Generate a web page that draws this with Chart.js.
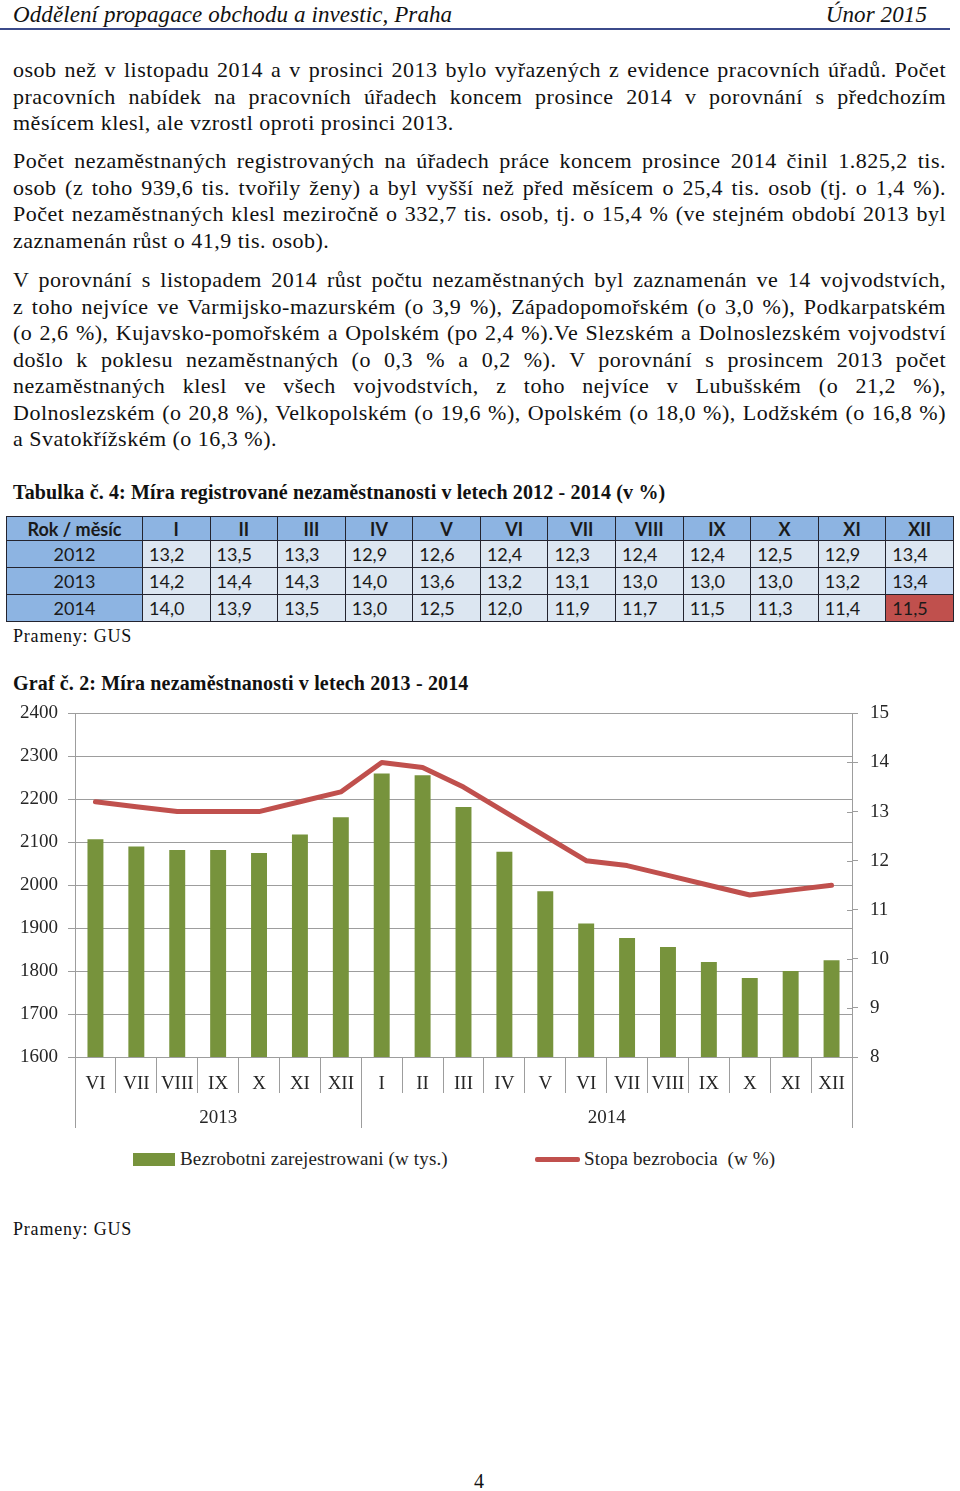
<!DOCTYPE html>
<html lang="cs">
<head>
<meta charset="utf-8">
<title>Míra nezaměstnanosti 2013 - 2014</title>
<script src="https://cdn.jsdelivr.net/npm/chart.js@4.4.1/dist/chart.umd.min.js"></script>
<style>
  body { margin: 0; width: 960px; height: 1491px; position: relative; overflow: hidden; background: #fff;
         font-family: 'Liberation Serif', 'Times New Roman', serif; color: #111; }
  .abs { position: absolute; }
  .hdr { top: 1px; font-style: italic; font-size: 23px; line-height: 28px; letter-spacing: 0.1px; }
  .rule { left: 0; top: 28px; width: 950px; height: 2px; background: #3b4a8a; }
  .par { left: 13px; width: 933px; font-size: 22px; line-height: 26.5px; letter-spacing: 0.5px; }
  .par div { text-align: justify; text-align-last: justify; }
  .par div.last { text-align: left; text-align-last: left; }
  .cap { left: 13px; font-weight: bold; font-size: 20px; line-height: 24px; letter-spacing: 0.15px; }
  .src { left: 13px; font-size: 18px; line-height: 22px; letter-spacing: 0.8px; }
  #tbl { left: 6px; top: 516px; border-collapse: collapse; table-layout: fixed; width: 948px;
         font-family: Lato, 'Open Sans', sans-serif; color: #1a1a1a; }
  #tbl th, #tbl td { border: 1.5px solid #23232e; font-size: 18px; padding: 0; }
  #tbl th { background: #8DB4E2; height: 23px; font-weight: bold; font-size: 18px; text-align: center; }
  #tbl td { background: #DCE6F1; height: 26px; text-align: left; padding-left: 6px; }
  #tbl td.yr { background: #8DB4E2; text-align: center; padding-left: 0; }
  #tbl td.lite { background: #C6D9F1; }
  #tbl td.hot { background: #C0504D; }
  #chartBox { left: 0; top: 690px; width: 960px; height: 450px; }
  .leg { top: 1148px; font-size: 19px; line-height: 22px; letter-spacing: 0.15px; white-space: pre; color: #222; }
  .sw { position: absolute; }
</style>
</head>
<body>
<div class="abs hdr" style="left:13px">Oddělení propagace obchodu a investic, Praha</div>
<div class="abs hdr" style="right:33px">Únor 2015</div>
<div class="abs rule"></div>

<div class="abs par" style="top:57px">
  <div>osob než v listopadu 2014 a v prosinci 2013 bylo vyřazených z evidence pracovních úřadů. Počet</div>
  <div>pracovních nabídek na pracovních úřadech koncem prosince 2014 v porovnání s předchozím</div>
  <div class="last">měsícem klesl, ale vzrostl oproti prosinci 2013.</div>
</div>

<div class="abs par" style="top:148px">
  <div>Počet nezaměstnaných registrovaných na úřadech práce koncem prosince 2014 činil 1.825,2 tis.</div>
  <div>osob (z toho 939,6 tis. tvořily ženy) a byl vyšší než před měsícem o 25,4 tis. osob (tj. o 1,4 %).</div>
  <div>Počet nezaměstnaných klesl meziročně o 332,7 tis. osob, tj. o 15,4 % (ve stejném období 2013 byl</div>
  <div class="last">zaznamenán růst o 41,9 tis. osob).</div>
</div>

<div class="abs par" style="top:267px">
  <div>V porovnání s listopadem 2014 růst počtu nezaměstnaných byl zaznamenán ve 14 vojvodstvích,</div>
  <div>z toho nejvíce ve Varmijsko-mazurském (o 3,9 %), Západopomořském (o 3,0 %), Podkarpatském</div>
  <div>(o 2,6 %), Kujavsko-pomořském a Opolském (po 2,4 %).Ve Slezském a Dolnoslezském vojvodství</div>
  <div>došlo k poklesu nezaměstnaných (o 0,3 % a 0,2 %). V porovnání s prosincem 2013 počet</div>
  <div>nezaměstnaných klesl ve všech vojvodstvích, z toho nejvíce v Lubušském (o 21,2 %),</div>
  <div>Dolnoslezském (o 20,8 %), Velkopolském (o 19,6 %), Opolském (o 18,0 %), Lodžském (o 16,8 %)</div>
  <div class="last">a Svatokřížském (o 16,3 %).</div>
</div>

<div class="abs cap" style="top:480px">Tabulka č. 4: Míra registrované nezaměstnanosti v letech 2012 - 2014 (v %)</div>
<table class="abs" id="tbl"></table>
<div class="abs src" style="top:625px">Prameny: GUS</div>

<div class="abs cap" style="top:671px">Graf č. 2: Míra nezaměstnanosti v letech 2013 - 2014</div>
<div class="abs" id="chartBox"><canvas id="chart"></canvas></div>

<div class="sw" style="left:133px; top:1153px; width:42px; height:13px; background:#77933C"></div>
<div class="abs leg" style="left:180px">Bezrobotni zarejestrowani (w tys.)</div>
<div class="sw" style="left:535px; top:1157px; width:45px; height:5px; background:#C0504D; border-radius:2px"></div>
<div class="abs leg" style="left:584px">Stopa bezrobocia  (w %)</div>

<div class="abs src" style="top:1218px">Prameny: GUS</div>
<div class="abs" style="left:474px; top:1469px; font-size:20px; line-height:24px">4</div>

<script>
// table: registered unemployment rate (%), months I..XII
var tableMonths = ['I', 'II', 'III', 'IV', 'V', 'VI', 'VII', 'VIII', 'IX', 'X', 'XI', 'XII'];
var tableYears = ['2012', '2013', '2014'];
var rate2012 = [13.2, 13.5, 13.3, 12.9, 12.6, 12.4, 12.3, 12.4, 12.4, 12.5, 12.9, 13.4];
var rate2013 = [14.2, 14.4, 14.3, 14.0, 13.6, 13.2, 13.1, 13.0, 13.0, 13.0, 13.2, 13.4];
var rate2014 = [14.0, 13.9, 13.5, 13.0, 12.5, 12.0, 11.9, 11.7, 11.5, 11.3, 11.4, 11.5];

// chart: VI/2013 .. XII/2014
var chartMonths = ['VI', 'VII', 'VIII', 'IX', 'X', 'XI', 'XII',
                   'I', 'II', 'III', 'IV', 'V', 'VI', 'VII', 'VIII', 'IX', 'X', 'XI', 'XII'];
var chartYears = ['2013', '2014'];
var monthsPerYear = [7, 12];
var unemployed2013 = [2107, 2090, 2082, 2082, 2075, 2118, 2158];           // tis. osob, VI-XII
var unemployed2014 = [2260, 2256, 2182, 2078, 1986, 1911, 1877, 1856, 1821, 1784, 1800, 1825];
var leftTicks = [1600, 1700, 1800, 1900, 2000, 2100, 2200, 2300, 2400];
var rightTicks = [8, 9, 10, 11, 12, 13, 14, 15];

function fmt(v) { return v.toFixed(1).replace('.', ','); }

// build table
var tbl = document.getElementById('tbl');
var html = '<colgroup><col style="width:136px">';
tableMonths.forEach(function() { html += '<col>'; });
html += '</colgroup><tr><th>Rok / měsíc</th>';
tableMonths.forEach(function(m) { html += '<th>' + m + '</th>'; });
html += '</tr>';
[rate2012, rate2013, rate2014].forEach(function(row, r) {
    html += '<tr><td class="yr">' + tableYears[r] + '</td>';
    row.forEach(function(v, c) {
        var cls = '';
        if (r === 1 && c === 11) cls = ' class="lite"';
        if (r === 2 && c === 11) cls = ' class="hot"';
        html += '<td' + cls + '>' + fmt(v) + '</td>';
    });
    html += '</tr>';
});
tbl.innerHTML = html;

// keep forced line breaks on one line each
document.querySelectorAll('.par div').forEach(function(d) {
    var ls = 0.5;
    while (d.offsetHeight > 30 && ls > -1.5) { ls -= 0.05; d.style.letterSpacing = ls + 'px'; }
});

var gridColor = '#9d9d9d';
var tickColor = '#262626';
Chart.defaults.font.family = "'Liberation Serif', 'Times New Roman', serif";
Chart.defaults.font.size = 19;
Chart.defaults.color = tickColor;

// year group labels under the month labels
var yearGroups = {
    id: 'yearGroups',
    afterDraw: function(chart) {
        var x = chart.scales.x, yr = chart.scales.yRate, ctx = chart.ctx;
        var step = x.getPixelForValue(1) - x.getPixelForValue(0);
        var edges = [0];
        monthsPerYear.forEach(function(n) { edges.push(edges[edges.length - 1] + n); });
        ctx.save();
        ctx.strokeStyle = gridColor;
        ctx.lineWidth = 1;
        edges.forEach(function(i) {
            var px = Math.round(x.getPixelForValue(i) - step / 2) + 0.5;
            ctx.beginPath();
            ctx.moveTo(px, x.top);
            ctx.lineTo(px, x.top + 71);
            ctx.stroke();
        });
        // right axis ticks also cross to the inside
        yr.ticks.forEach(function(t) {
            var py = Math.round(yr.getPixelForValue(t.value)) + 0.5;
            ctx.beginPath();
            ctx.moveTo(yr.left - 5, py);
            ctx.lineTo(yr.left, py);
            ctx.stroke();
        });
        ctx.font = "19px 'Liberation Serif'";
        ctx.fillStyle = tickColor;
        ctx.textAlign = 'center';
        ctx.textBaseline = 'middle';
        chartYears.forEach(function(y, k) {
            var a = x.getPixelForValue(edges[k]) - step / 2;
            var b = x.getPixelForValue(edges[k + 1]) - step / 2;
            ctx.fillText(y, (a + b) / 2, x.top + 61);
        });
        ctx.restore();
    }
};

new Chart(document.getElementById('chart'), {
    type: 'bar',
    data: {
        labels: chartMonths,
        datasets: [{
            type: 'line',
            label: 'Stopa bezrobocia  (w %)',
            data: rate2013.slice(5).concat(rate2014),
            yAxisID: 'yRate',
            borderColor: '#C0504D',
            borderWidth: 5,
            pointRadius: 0,
            tension: 0,
            borderJoinStyle: 'round',
            borderCapStyle: 'round',
            order: 0
        }, {
            label: 'Bezrobotni zarejestrowani (w tys.)',
            data: unemployed2013.concat(unemployed2014),
            yAxisID: 'y',
            backgroundColor: '#77933C',
            barPercentage: 0.39,
            categoryPercentage: 1,
            order: 1
        }]
    },
    options: {
        responsive: true,
        maintainAspectRatio: false,
        animation: false,
        layout: { padding: { top: 20, left: 0, right: 0, bottom: 0 } },
        plugins: { legend: { display: false }, tooltip: { enabled: false } },
        scales: {
            x: {
                offset: true,
                grid: { offset: true, drawOnChartArea: false, color: gridColor, tickLength: 36 },
                border: { color: gridColor },
                ticks: { autoSkip: false, maxRotation: 0, padding: -20, color: tickColor },
                afterFit: function(s) { s.height = 83; }
            },
            y: {
                position: 'left',
                min: leftTicks[0],
                max: leftTicks[leftTicks.length - 1],
                afterBuildTicks: function(s) { s.ticks = leftTicks.map(function(v) { return { value: v }; }); },
                grid: { color: gridColor, tickLength: 7 },
                border: { color: gridColor },
                ticks: { padding: 10, color: tickColor, callback: function(v) { return String(v); } },
                afterFit: function(s) { s.width = 75; }
            },
            yRate: {
                position: 'right',
                min: rightTicks[0],
                max: rightTicks[rightTicks.length - 1],
                afterBuildTicks: function(s) { s.ticks = rightTicks.map(function(v) { return { value: v }; }); },
                grid: { drawOnChartArea: false, color: gridColor, tickLength: 6 },
                border: { color: gridColor },
                ticks: { padding: 12, color: tickColor, callback: function(v) { return String(v); } },
                afterFit: function(s) { s.width = 108; }
            }
        }
    },
    plugins: [yearGroups]
});
</script>
</body>
</html>
